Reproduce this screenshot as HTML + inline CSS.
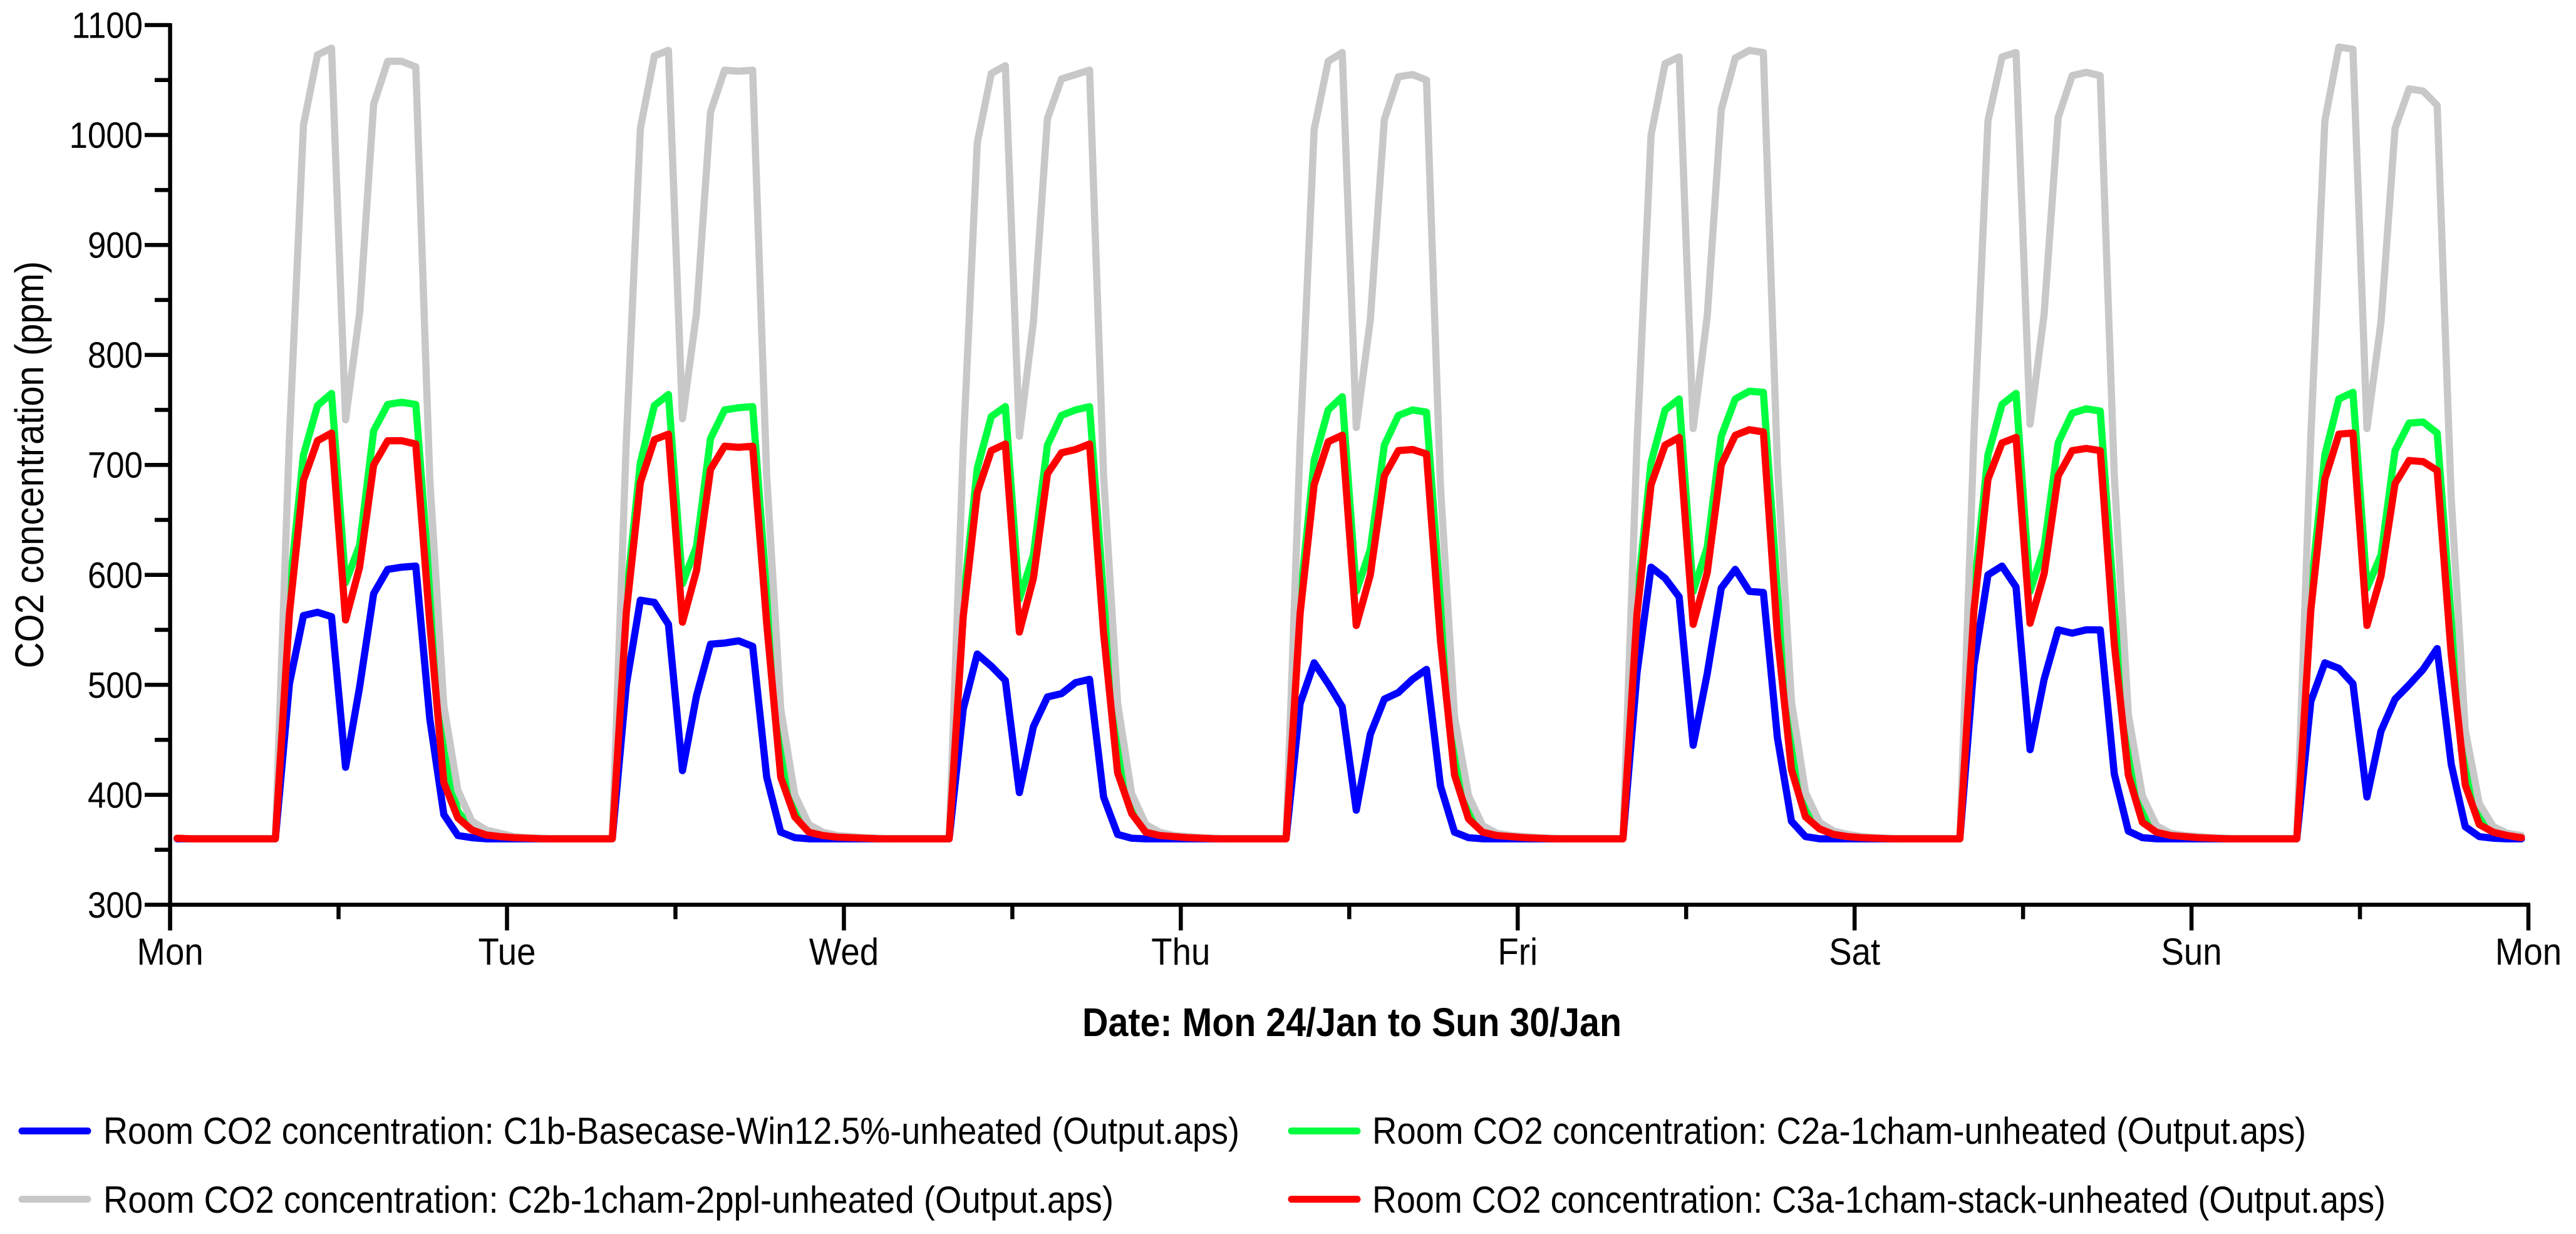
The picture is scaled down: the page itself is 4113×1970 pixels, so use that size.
<!DOCTYPE html>
<html>
<head>
<meta charset="utf-8">
<title>CO2 concentration chart</title>
<style>
html,body{margin:0;padding:0;background:#fff;}
svg{display:block;}
text{font-family:"Liberation Sans",Arial,sans-serif;fill:#000;}
</style>
</head>
<body>
<svg id="chart" xmlns="http://www.w3.org/2000/svg" width="4113" height="1970" viewBox="0 0 4113 1970">
<rect x="0" y="0" width="4113" height="1970" fill="#fff"/>
<g id="series-layer"></g>
<g id="axis-layer"></g>
<text transform="translate(69,1067) rotate(-90)" font-size="64" textLength="650" lengthAdjust="spacingAndGlyphs">CO2 concentration (ppm)</text>
<text x="1728" y="1654" font-size="64" font-weight="bold" textLength="861" lengthAdjust="spacingAndGlyphs">Date: Mon 24/Jan to Sun 30/Jan</text>
<g>
<g>
<line x1="35" y1="1805.5" x2="140" y2="1805.5" stroke="#0000ff" stroke-width="11" stroke-linecap="round"/>
<text x="165" y="1826" font-size="60" textLength="1814" lengthAdjust="spacingAndGlyphs">Room CO2 concentration: C1b-Basecase-Win12.5%-unheated (Output.aps)</text>
</g>
<g>
<line x1="2062" y1="1805.5" x2="2167" y2="1805.5" stroke="#00ff40" stroke-width="11" stroke-linecap="round"/>
<text x="2191" y="1826" font-size="60" textLength="1491" lengthAdjust="spacingAndGlyphs">Room CO2 concentration: C2a-1cham-unheated (Output.aps)</text>
</g>
<g>
<line x1="35" y1="1914.5" x2="140" y2="1914.5" stroke="#c8c8c8" stroke-width="11" stroke-linecap="round"/>
<text x="165" y="1936" font-size="60" textLength="1613" lengthAdjust="spacingAndGlyphs">Room CO2 concentration: C2b-1cham-2ppl-unheated (Output.aps)</text>
</g>
<g>
<line x1="2062" y1="1914.5" x2="2167" y2="1914.5" stroke="#ff0000" stroke-width="11" stroke-linecap="round"/>
<text x="2191" y="1936" font-size="60" textLength="1618" lengthAdjust="spacingAndGlyphs">Room CO2 concentration: C3a-1cham-stack-unheated (Output.aps)</text>
</g>
</g>
</svg>
<script>
const dayLabels = ["Mon","Tue","Wed","Thu","Fri","Sat","Sun","Mon"];
const yTickLabels = [300,400,500,600,700,800,900,1000,1100];

const blueValues = [
360,360,360,360,360,360,360,360,501,563,566,562,425,498,583,605,607,608,469,382,363,361,360,360,
360,360,360,360,360,360,360,360,500,577,575,555,422,490,537,538,540,535,416,366,361,360,360,360,
360,360,360,360,360,360,360,360,478,528,517,504,402,462,489,492,502,505,398,364,360.5,360,360,360,
360,360,360,360,360,360,360,360,483,520,501,480,386,455,487,493,505,514,408,366,361,360,360,360,
360,360,360,360,360,360,360,360,511,607,597,580,445,510,588,605,585,584,452,376,362,360,360,360,
360,360,360,360,360,360,360,360,518,600,608,589,441,505,550,547,550,550,419,367,361,360,360,360,
360,360,360,360,360,360,360,360,485,520,515,501,398,458,487,500,514,533,428,371,362,360.5,360,360
];
const greenValues = [
360.5,360,360,360,360,360,360,360,585,709,754,765,593,627,731,755,757,755,590,440,385,369,364,362,
361.5,360.8,360.3,360,360,360,360,360,580,702,754,764,592,626,724,750,752,753,583,440,385,369,364,362,
361.5,360.8,360.3,360,360,360,360,360,575,697,744,753,578,618,718,745,750,753,580,442,386,369,364,362,
361.5,360.8,360.3,360,360,360,360,360,578,704,750,762,585,623,718,745,750,748,575,438,384,368,364,362,
361.5,360.8,360.3,360,360,360,360,360,578,702,750,760,585,625,726,760,767,766,585,445,386,370,364,362,
361.5,360.8,360.3,360,360,360,360,360,585,709,755,765,585,625,720,747,751,749,570,438,384,368,364,362,
361.5,360.8,360.3,360,360,360,360,360,585,709,760,766,588,618,713,738,739,729,560,430,380,368,364,362
];
const grayValues = [
360.5,360,360,360,360,360,360,360,725,1009,1073,1079,741,838,1028,1067,1067,1062,687,481,404,376,368,365,
362,361,360.5,360,360,360,360,360,722,1006,1072,1077,742,838,1021,1059,1058,1059,690,478,400,373,366,363,
362,361,360.5,360,360,360,360,360,715,993,1056,1063,726,830,1015,1051,1055,1059,690,483,401,373,366,363,
362,361,360.5,360,360,360,360,360,720,1005,1067,1075,734,832,1014,1053,1055,1050,680,471,399,372,365,363,
362,361,360.5,360,360,360,360,360,720,1000,1065,1071,733,835,1023,1070,1077,1075,700,485,402,375,367,364,
362,361,360.5,360,360,360,360,360,726,1013,1071,1075,737,837,1016,1054,1057,1054,690,473,399,372,365,363,
362,361,360.5,360,360,360,360,360,726,1013,1080,1078,733,830,1006,1042,1040,1027,670,459,392,371,365,363
];
const redValues = [
360.5,360,360,360,360,360,360,360,565,686,722,729,559,607,700,722,722,719,556,411,379,368,363.5,362,
361,360.5,360,360,360,360,360,360,566,684,723,728,557,604,696,717,716,717,556,416,380,366,363,361.5,
361,360.5,360,360,360,360,360,360,562,675,713,719,548,597,692,711,714,719,547,420,383,366,363,362,
361,360.5,360,360,360,360,360,360,565,682,721,727,554,600,690,713,714,710,540,418,378,366,363,362,
361,360.5,360,360,360,360,360,360,565,682,718,725,555,602,700,727,732,730,545,423,380,369,364,362,
361,360.5,360,360,360,360,360,360,568,687,720,725,556,601,690,713,715,713,537,418,375,366,363,362,
361,360.5,360,360,360,360,360,360,568,687,728,729,554,599,683,704,703,695,528,409,373,366,363,361
];

const SVG_NS = "http://www.w3.org/2000/svg";
const plotLeft = 271.6, plotRight = 4037, plotBottom = 1444.4, plotTop = 40;
const hoursPerDay = 24;
const totalDays = dayLabels.length - 1;
const yMin = yTickLabels[0], yMax = yTickLabels[yTickLabels.length - 1];

function xScale(hours) {
  return plotLeft + (plotRight - plotLeft) * hours / (totalDays * hoursPerDay);
}
function yScale(value) {
  return plotBottom - (plotBottom - plotTop) * (value - yMin) / (yMax - yMin);
}
function make(tag, attrs, parent) {
  const el = document.createElementNS(SVG_NS, tag);
  for (const k in attrs) el.setAttribute(k, attrs[k]);
  parent.appendChild(el);
  return el;
}
function drawSeries(values, color, name) {
  let d = "";
  values.forEach(function (v, i) {
    d += (i ? "L" : "M") + xScale(i + 0.5).toFixed(2) + " " + yScale(v).toFixed(2);
  });
  const layer = document.getElementById("series-layer");
  const path = make("path", {d: d, fill: "none", stroke: color, "stroke-width": 11.5, "stroke-linejoin": "round", "stroke-linecap": "round"}, layer);
  
  
}
function drawAxes() {
  const axis = document.getElementById("axis-layer");
  const sw = 6.5;
  const yLine = make("line", {x1: plotLeft, y1: plotTop - 3, x2: plotLeft, y2: plotBottom + 41, stroke: "#000", "stroke-width": sw}, axis);
  
  
  const xLine = make("line", {x1: plotLeft, y1: plotBottom, x2: plotRight + 3, y2: plotBottom, stroke: "#000", "stroke-width": sw}, axis);
  
  

  yTickLabels.forEach(function (label, i) {
    const y = yScale(label);
    const tick = make("line", {x1: 231, y1: y, x2: plotLeft, y2: y, stroke: "#000", "stroke-width": sw}, axis);
    
    
    const txt = make("text", {transform: "translate(228," + (y + 20.5) + ") scale(0.91,1)", "text-anchor": "end", "font-size": 58}, axis);
    txt.textContent = label;
    
    
    if (i < yTickLabels.length - 1) {
      const yMid = yScale((label + yTickLabels[i + 1]) / 2);
      const minor = make("line", {x1: 247, y1: yMid, x2: plotLeft, y2: yMid, stroke: "#000", "stroke-width": sw}, axis);
      
      
    }
  });

  dayLabels.forEach(function (label, i) {
    const x = xScale(i * hoursPerDay);
    const tick = make("line", {x1: x, y1: plotBottom, x2: x, y2: plotBottom + 41, stroke: "#000", "stroke-width": sw}, axis);
    
    
    const txt = make("text", {transform: "translate(" + x + ",1540) scale(0.91,1)", "text-anchor": "middle", "font-size": 60}, axis);
    txt.textContent = label;
    
    
    if (i < dayLabels.length - 1) {
      const xMid = xScale((i + 0.5) * hoursPerDay);
      const minor = make("line", {x1: xMid, y1: plotBottom, x2: xMid, y2: plotBottom + 23, stroke: "#000", "stroke-width": sw}, axis);
      
      
    }
  });
}
drawSeries(blueValues, "#0000ff", "series-c1b-basecase");
drawSeries(greenValues, "#00ff40", "series-c2a-1cham");
drawSeries(grayValues, "#c8c8c8", "series-c2b-1cham-2ppl");
drawSeries(redValues, "#ff0000", "series-c3a-1cham-stack");
drawAxes();
</script>
</body>
</html>
